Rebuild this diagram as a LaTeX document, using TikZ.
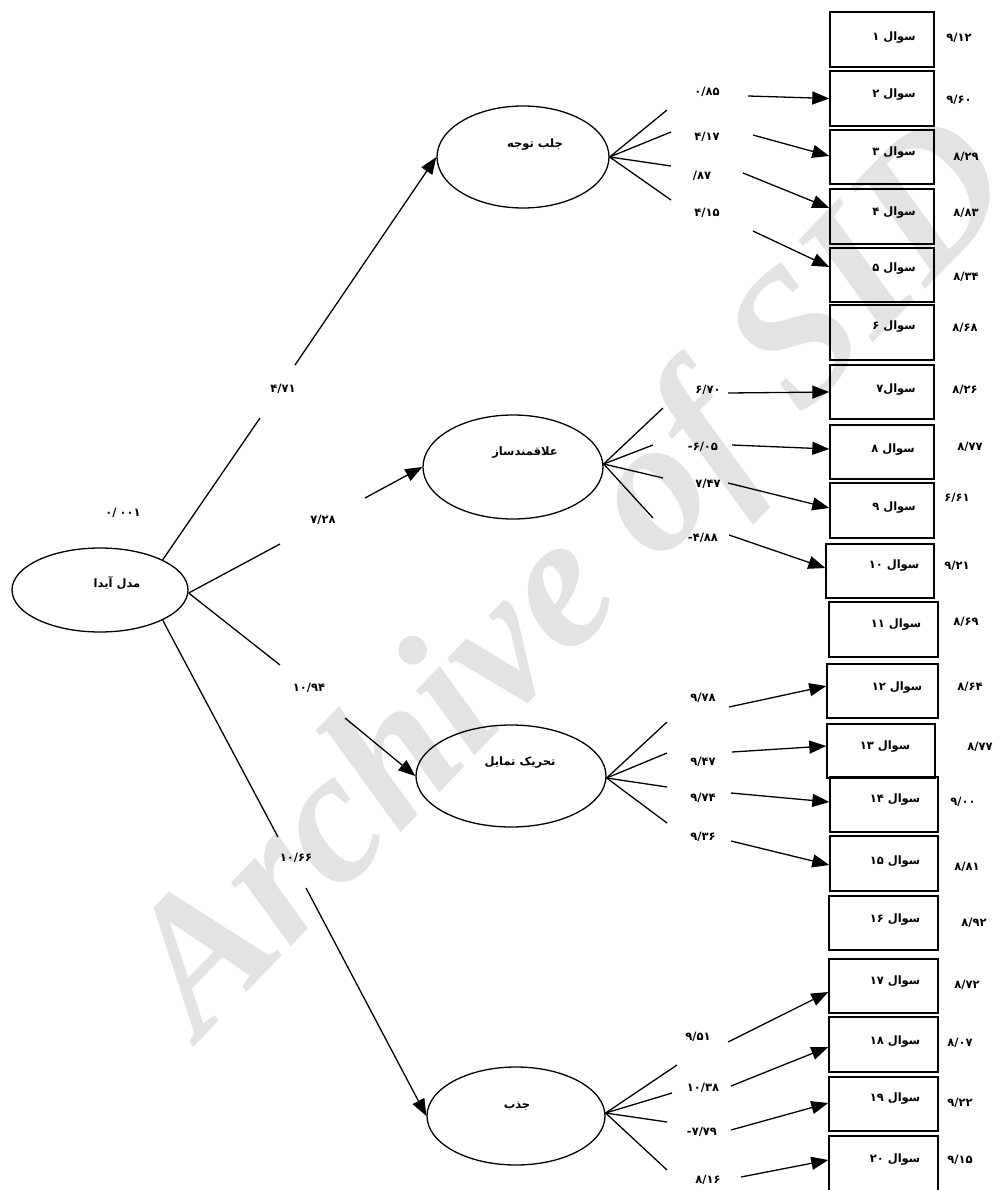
\documentclass[tikz,border=0pt]{standalone}
\usepackage{fontspec}
\TeXXeTstate=1
\newfontfamily\fa[Script=Arabic]{DejaVu Sans}
\newfontfamily\wmf{Liberation Serif}
\usetikzlibrary{arrows.meta,shapes.geometric}
\tikzset{
  qbox/.style={draw, line width=1.4pt, minimum width=104pt, minimum height=55pt, inner sep=0pt},
  lat/.style={draw, ellipse, line width=1.3pt, inner sep=0pt},
  txt/.style={font=\fa\bfseries\fontsize{11.5}{13}\selectfont, inner sep=0pt},
  arr/.style={-{Triangle[length=17pt,width=13pt]}, line width=1.3pt},
  ln/.style={line width=1.3pt},
  wm/.style={font=\wmf\bfseries\itshape\fontsize{190}{190}\selectfont, text=black!11, inner sep=0pt}
}
\begin{document}
\begin{tikzpicture}[x=1pt,y=-1pt]
\useasboundingbox (0,0) rectangle (1002,1190);
% watermark
\node[wm, anchor=base, rotate=46] (wmark) at (611,615) {Archive of SID};

% latent ellipses
\node[lat, minimum width=176pt, minimum height=84pt] (e0) at (100,590) {};
\node[lat, minimum width=172pt, minimum height=102pt] (e1) at (523,157) {};
\node[lat, minimum width=180pt, minimum height=104pt] (e2) at (513,467) {};
\node[lat, minimum width=190pt, minimum height=102pt] (e3) at (511,776) {};
\node[lat, minimum width=178pt, minimum height=98pt] (e4) at (516,1116) {};
\node[txt] (t0) at (117,583) {\beginR مدل آیدا\endR};
\node[txt] (t1) at (535,145) {\beginR جلب توجه\endR};
\node[txt] (t2) at (525,453) {\beginR علاقمندساز\endR};
\node[txt] (t3) at (520,763) {\beginR تحریک تمایل\endR};
\node[txt] (t4) at (517,1106) {\beginR جذب\endR};

% boxes
\node[qbox] (q1) at (882,39.5) {};
\node[qbox] (q2) at (882,98.5) {};
\node[qbox, minimum height=54pt] (q3) at (882,157) {};
\node[qbox] (q4) at (882,216.5) {};
\node[qbox, minimum height=54pt] (q5) at (882,275) {};
\node[qbox] (q6) at (882,332.5) {};
\node[qbox, minimum height=54pt] (q7) at (882,392) {};
\node[qbox, minimum height=54pt] (q8) at (882,452) {};
\node[qbox] (q9) at (882,510.5) {};
\node[qbox, minimum width=108pt, minimum height=54pt] (q10) at (880,571) {};
\node[qbox, minimum width=109pt] (q11) at (883.5,629.5) {};
\node[qbox, minimum width=111pt, minimum height=54pt] (q12) at (882.5,691) {};
\node[qbox, minimum width=108pt, minimum height=54pt] (q13) at (881,751) {};
\node[qbox, minimum width=108pt] (q14) at (884,804.5) {};
\node[qbox, minimum width=108pt] (q15) at (884,863.5) {};
\node[qbox, minimum width=109pt, minimum height=54pt] (q16) at (883.5,923) {};
\node[qbox, minimum width=109pt, minimum height=54pt] (q17) at (883.5,986) {};
\node[qbox, minimum width=109pt] (q18) at (883.5,1044.5) {};
\node[qbox, minimum width=109pt, minimum height=54pt] (q19) at (883.5,1104) {};
\node[qbox, minimum width=109pt, minimum height=60pt] (q20) at (883.5,1166) {};

% box labels
\node[txt] (l1) at (894,38) {\beginR سوال ۱\endR};
\node[txt] (l2) at (894,95) {\beginR سوال ۲\endR};
\node[txt] (l3) at (894,153) {\beginR سوال ۳\endR};
\node[txt] (l4) at (894,213) {\beginR سوال ۴\endR};
\node[txt] (l5) at (894,269) {\beginR سوال ۵\endR};
\node[txt] (l6) at (894,327) {\beginR سوال ۶\endR};
\node[txt] (l7) at (896,390) {سوال۷};
\node[txt] (l8) at (893,450) {\beginR سوال ۸\endR};
\node[txt] (l9) at (894,508) {\beginR سوال ۹\endR};
\node[txt] (l10) at (894,566) {\beginR سوال ۱۰\endR};
\node[txt] (l11) at (896,625) {\beginR سوال ۱۱\endR};
\node[txt] (l12) at (897,688) {\beginR سوال ۱۲\endR};
\node[txt] (l13) at (885,747) {\beginR سوال ۱۳\endR};
\node[txt] (l14) at (895,800) {\beginR سوال ۱۴\endR};
\node[txt] (l15) at (895,862) {\beginR سوال ۱۵\endR};
\node[txt] (l16) at (895,920) {\beginR سوال ۱۶\endR};
\node[txt] (l17) at (895,982) {\beginR سوال ۱۷\endR};
\node[txt] (l18) at (895,1042) {\beginR سوال ۱۸\endR};
\node[txt] (l19) at (895,1099) {\beginR سوال ۱۹\endR};
\node[txt] (l20) at (895,1160) {\beginR سوال ۲۰\endR};

% right values
\node[txt] (v1) at (959,38) {۹/۱۲};
\node[txt] (v2) at (959,100) {۹/۶۰};
\node[txt] (v3) at (966,157) {۸/۲۹};
\node[txt] (v4) at (966,213) {۸/۸۳};
\node[txt] (v5) at (966,277) {۸/۳۴};
\node[txt] (v6) at (965,328) {۸/۶۸};
\node[txt] (v7) at (965,390) {۸/۲۶};
\node[txt] (v8) at (970,447) {۸/۷۷};
\node[txt] (v9) at (957,498) {۶/۶۱};
\node[txt] (v10) at (957,566) {۹/۲۱};
\node[txt] (v11) at (966,622) {۸/۶۹};
\node[txt] (v12) at (970,687) {۸/۶۴};
\node[txt] (v13) at (980,747) {۸/۷۷};
\node[txt] (v14) at (963,802) {۹/۰۰};
\node[txt] (v15) at (967,867) {۸/۸۱};
\node[txt] (v16) at (974,923) {۸/۹۲};
\node[txt] (v17) at (967,985) {۸/۷۲};
\node[txt] (v18) at (960,1043) {۸/۰۷};
\node[txt] (v19) at (960,1103) {۹/۲۲};
\node[txt] (v20) at (960,1160) {۹/۱۵};

% main path labels
\node[txt] (m0) at (123,513) {\hbox{۰}\hbox{/}\hspace{3pt}\hbox{۰۰۱}};
\node[txt] (m1) at (283,389) {۴/۷۱};
\node[txt] (m2) at (323,520) {۷/۲۸};
\node[txt] (m3) at (309,688) {۱۰/۹۴};
\node[txt] (m4) at (296,858) {۱۰/۶۶};

% loading labels
\node[txt] (a1) at (707,92) {۰/۸۵};
\node[txt] (a2) at (707,137) {۴/۱۷};
\node[txt] (a3) at (702,176) {\hbox{/}\hbox{۸۷}};
\node[txt] (a4) at (707,213) {۴/۱۵};
\node[txt] (b1) at (708,390) {۶/۷۰};
\node[txt] (b2) at (703,447) {\hbox{-}\hbox{۶/۰۵}};
\node[txt] (b3) at (708,484) {۷/۴۷};
\node[txt] (b4) at (703,538) {\hbox{-}\hbox{۴/۸۸}};
\node[txt] (c1) at (703,698) {۹/۷۸};
\node[txt] (c2) at (703,762) {۹/۴۷};
\node[txt] (c3) at (703,798) {۹/۷۴};
\node[txt] (c4) at (703,837) {۹/۳۶};
\node[txt] (d1) at (698,1037) {۹/۵۱};
\node[txt] (d2) at (703,1088) {۱۰/۳۸};
\node[txt] (d3) at (702,1132) {\hbox{-}\hbox{۷/۷۹}};
\node[txt] (d4) at (708,1180) {۸/۱۶};

% free-end coordinates
\coordinate (g1a) at (260,418); \coordinate (g1b) at (295,365);
\coordinate (g2a) at (280,544); \coordinate (g2b) at (365,498);
\coordinate (g3a) at (280,665); \coordinate (g3b) at (345,718);
\coordinate (g4a) at (278,837); \coordinate (g4b) at (306,888);

% main structure
\draw[ln] (e0.north east) -- (g1a);
\draw[arr] (g1b) -- (e1.west);
\draw[ln] ([yshift=-3pt]e0.east) -- (g2a);
\draw[arr] (g2b) -- (e2.west);
\draw[ln] ([yshift=-3pt]e0.east) -- (g3a);
\draw[arr] (g3b) -- (e3.west);
\draw[ln] (e0.south east) -- (g4a);
\draw[arr] (g4b) -- (e4.west);

% fans
\coordinate (f11) at (667,110); \coordinate (f12) at (671,132);
\coordinate (f13) at (671,166); \coordinate (f14) at (671,200);
\coordinate (f21) at (663,408); \coordinate (f22) at (653,445);
\coordinate (f23) at (663,478); \coordinate (f24) at (653,518);
\coordinate (f31) at (667,722); \coordinate (f32) at (667,753);
\coordinate (f33) at (667,787); \coordinate (f34) at (667,823);
\coordinate (f41) at (677,1065); \coordinate (f42) at (672,1093);
\coordinate (f43) at (667,1122); \coordinate (f44) at (667,1170);
\foreach \i in {1,2,3,4}{
  \draw[ln] (e1.east) -- (f1\i);
  \draw[ln] ([yshift=3pt]e2.east) -- (f2\i);
  \draw[ln] ([yshift=-2pt]e3.east) -- (f3\i);
  \draw[ln] ([yshift=3pt]e4.east) -- (f4\i);
}

% loading arrows
\coordinate (s2) at (748,96);  \coordinate (s3) at (753,135);
\coordinate (s4) at (743,173); \coordinate (s5) at (753,231);
\coordinate (s7) at (728,393); \coordinate (s8) at (732,445);
\coordinate (s9) at (728,483); \coordinate (s10) at (729,535);
\coordinate (s12) at (729,707); \coordinate (s13) at (732,752);
\coordinate (s14) at (731,793); \coordinate (s15) at (731,841);
\coordinate (s17) at (728,1042); \coordinate (s18) at (731,1086);
\coordinate (s19) at (731,1130); \coordinate (s20) at (741,1177);

\draw[arr] (s2) -- (q2.west);
\draw[arr] (s3) -- ([yshift=1pt]q3.west);
\draw[arr] (s4) -- ([yshift=8.5pt]q4.west);
\draw[arr] (s5) -- ([yshift=8pt]q5.west);
\draw[arr] (s7) -- (q7.west);
\draw[arr] (s8) -- ([yshift=3pt]q8.west);
\draw[arr] (s9) -- ([yshift=2.5pt]q9.west);
\draw[arr] (s10) -- ([yshift=3pt]q10.west);
\draw[arr] (s12) -- ([yshift=5pt]q12.west);
\draw[arr] (s13) -- ([yshift=5pt]q13.west);
\draw[arr] (s14) -- ([yshift=2.5pt]q14.west);
\draw[arr] (s15) -- ([yshift=-1.5pt]q15.west);
\draw[arr] (s17) -- ([yshift=-6pt]q17.west);
\draw[arr] (s18) -- ([yshift=-2.5pt]q18.west);
\draw[arr] (s19) -- ([yshift=1pt]q19.west);
\draw[arr] (s20) -- ([yshift=6pt]q20.west);
\end{tikzpicture}
\end{document}
